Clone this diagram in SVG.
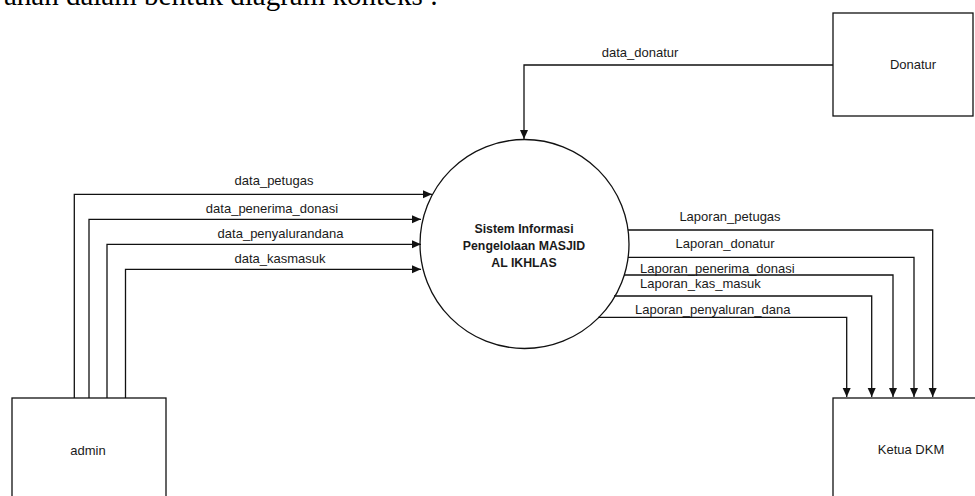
<svg xmlns="http://www.w3.org/2000/svg" width="975" height="496" viewBox="0 0 975 496">
<style>
.box{fill:#fff;stroke:#111;stroke-width:1.3}
.ln{fill:none;stroke:#111;stroke-width:1.3}
.lbl{font-family:"Liberation Sans",Arial,sans-serif;font-size:13px;fill:#1a1a1a}
.c{text-anchor:middle}
.bold{font-weight:bold;font-size:12.3px}
.cap{font-family:"Liberation Serif","Times New Roman",serif;font-size:29px;fill:#000}
</style>
<defs>
<marker id="ah" markerUnits="userSpaceOnUse" markerWidth="10" markerHeight="10" refX="9" refY="4" orient="auto">
<path d="M0,0 L9,4 L0,8 z" fill="#111"/>
</marker>
</defs>
<rect width="975" height="496" fill="#fff"/>
<text class="cap" x="438" y="5" text-anchor="end">ahan dalam bentuk diagram konteks :</text>

<g id="connectors">
<path class="ln" d="M833,65 H524 V139" marker-end="url(#ah)"/>
<path class="ln" d="M74.3,398 V194.3 H432" marker-end="url(#ah)"/>
<path class="ln" d="M89,398 V219.3 H421" marker-end="url(#ah)"/>
<path class="ln" d="M107,398 V244.3 H421" marker-end="url(#ah)"/>
<path class="ln" d="M125.5,398 V269.3 H421" marker-end="url(#ah)"/>
<path class="ln" d="M628,230 H932.7 V397" marker-end="url(#ah)"/>
<path class="ln" d="M628,257.3 H914 V397" marker-end="url(#ah)"/>
<path class="ln" d="M624,275 H893 V397" marker-end="url(#ah)"/>
<path class="ln" d="M614,296 H871.7 V397" marker-end="url(#ah)"/>
<path class="ln" d="M598,317.3 H846.7 V397" marker-end="url(#ah)"/>
<text class="lbl c" x="640" y="57">data_donatur</text>
<text class="lbl c" x="274" y="185">data_petugas</text>
<text class="lbl c" x="272" y="213">data_penerima_donasi</text>
<text class="lbl c" x="280.5" y="238">data_penyalurandana</text>
<text class="lbl c" x="280" y="263">data_kasmasuk</text>
<text class="lbl c" x="730" y="220.5">Laporan_petugas</text>
<text class="lbl c" x="725" y="247.5">Laporan_donatur</text>
<text class="lbl" x="640" y="272.5">Laporan_penerima_donasi</text>
<text class="lbl" x="640" y="288">Laporan_kas_masuk</text>
<text class="lbl" x="635" y="313.5">Laporan_penyaluran_dana</text>
</g>

<g id="process">
<circle cx="524.5" cy="244" r="104.5" fill="none" stroke="#111" stroke-width="1.3"/>
<text class="lbl c bold" x="524" y="233">Sistem Informasi</text>
<text class="lbl c bold" x="524" y="250">Pengelolaan MASJID</text>
<text class="lbl c bold" x="524" y="267">AL IKHLAS</text>
</g>

<g id="donatur">
<rect class="box" x="833" y="13" width="140" height="103"/>
<text class="lbl c" x="913" y="69">Donatur</text>
</g>

<g id="admin">
<rect class="box" x="12" y="398" width="154" height="104"/>
<text class="lbl c" x="88" y="455">admin</text>
</g>

<g id="ketua">
<rect class="box" x="833" y="398" width="160" height="110"/>
<text class="lbl c" x="911" y="454">Ketua DKM</text>
</g>
</svg>
